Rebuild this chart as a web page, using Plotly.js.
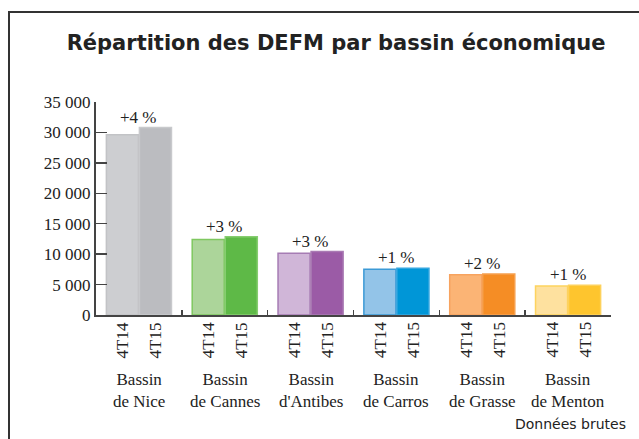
<!DOCTYPE html>
<html>
<head>
<meta charset="utf-8">
<script src="https://cdn.plot.ly/plotly-3.0.1.min.js"></script>
<style>
html,body{margin:0;padding:0;background:#fff;}
#wrap{position:relative;width:639px;height:439px;overflow:hidden;}
#chart{position:absolute;left:0;top:0;width:639px;height:439px;}
#frame{position:absolute;left:8px;top:11px;width:700px;height:500px;border-left:2px solid #333;border-top:2px solid #333;pointer-events:none;}
</style>
</head>
<body>
<div id="wrap"><div id="chart"></div><div id="frame"></div></div>
<script>
const groups = ["Bassin<br>de Nice","Bassin<br>de Cannes","Bassin<br>d'Antibes","Bassin<br>de Carros","Bassin<br>de Grasse","Bassin<br>de Menton"];
const periods = ["4T14","4T15"];
const values4T14 = [29600, 12400, 10150, 7520, 6620, 4770];
const values4T15 = [30800, 12850, 10420, 7670, 6740, 4880];
const changeLabels = ["+4 %","+3 %","+3 %","+1 %","+2 %","+1 %"];
const yTicks = [0, 5000, 10000, 15000, 20000, 25000, 30000, 35000];

const fill14 = ["#cdced1","#acd59a","#d0b6d8","#93c4e8","#fbb475","#fee19f"];
const line14 = ["#c2c3c6","#7fc860","#a67cb4","#3c9ad6","#f7a35f","#fdd35f"];
const fill15 = ["#bbbcc0","#5eb947","#9b5ba6","#0096d7","#f58d25","#fec52e"];
const line15 = ["#c8c9cc","#86cd70","#a97ab3","#33a6df","#f6a04f","#fdd15c"];

const serif = "Liberation Serif, Times New Roman, serif";
const fs = 17;
const bargap = 0.23, bargroupgap = 0.03;
const off = (1 - bargap) / 4;

const traces = [
  {type:"bar", name:periods[0], x:groups, y:values4T14,
   marker:{color:fill14, line:{color:line14, width:1.5}}, hoverinfo:"y"},
  {type:"bar", name:periods[1], x:groups, y:values4T15,
   marker:{color:fill15, line:{color:line15, width:1.5}}, hoverinfo:"y"}
];

const annotations = [];
groups.forEach((g, i) => {
  annotations.push({x:i - off, y:0, xref:"x", yref:"y", text:periods[0], textangle:-90,
    showarrow:false, xanchor:"center", yanchor:"top", yshift:-5,
    font:{family:serif, size:fs, color:"#222"}});
  annotations.push({x:i + off, y:0, xref:"x", yref:"y", text:periods[1], textangle:-90,
    showarrow:false, xanchor:"center", yanchor:"top", yshift:-5,
    font:{family:serif, size:fs, color:"#222"}});
  annotations.push({x:i, y:Math.max(values4T14[i], values4T15[i]), xref:"x", yref:"y",
    text:changeLabels[i], showarrow:false, xanchor:"center", yanchor:"bottom", yshift:-1,
    font:{family:serif, size:fs, color:"#222"}});
  annotations.push({x:i, y:0, xref:"x", yref:"y", text:g, showarrow:false,
    xanchor:"center", yanchor:"middle", yshift:-75,
    font:{family:serif, size:fs, color:"#222"}});
});
annotations.push({x:1.033, y:-0.512, xref:"paper", yref:"paper", text:"Données brutes",
  showarrow:false, xanchor:"right", yanchor:"middle",
  font:{family:"DejaVu Sans, sans-serif", size:14, color:"#222"}});

const layout = {
  width:639, height:439,
  margin:{l:96, r:28, t:102, b:124},
  paper_bgcolor:"#fff", plot_bgcolor:"#fff",
  showlegend:false,
  barmode:"group", bargap:bargap, bargroupgap:bargroupgap,
  separators:", ",
  title:{text:"<b>Répartition des DEFM par bassin économique</b>",
    x:0.526, xref:"container", y:0.902, yref:"container", xanchor:"center", yanchor:"middle",
    font:{family:"DejaVu Sans, sans-serif", size:21, color:"#222"}},
  xaxis:{type:"category", showline:true, linecolor:"#444", linewidth:2,
    ticks:"inside", tickson:"boundaries", ticklen:5, tickwidth:1.5, tickcolor:"#444",
    showgrid:false, zeroline:false, showticklabels:false},
  yaxis:{range:[0,35000], tickvals:yTicks, tickformat:",d", separatethousands:true,
    showline:true, linecolor:"#444", linewidth:2,
    ticks:"inside", ticklen:11, tickwidth:1.5, tickcolor:"#444",
    showgrid:false, zeroline:false,
    tickfont:{family:serif, size:fs, color:"#222"}},
  annotations:annotations
};

Plotly.newPlot("chart", traces, layout, {displayModeBar:false, staticPlot:true});
</script>
</body>
</html>
